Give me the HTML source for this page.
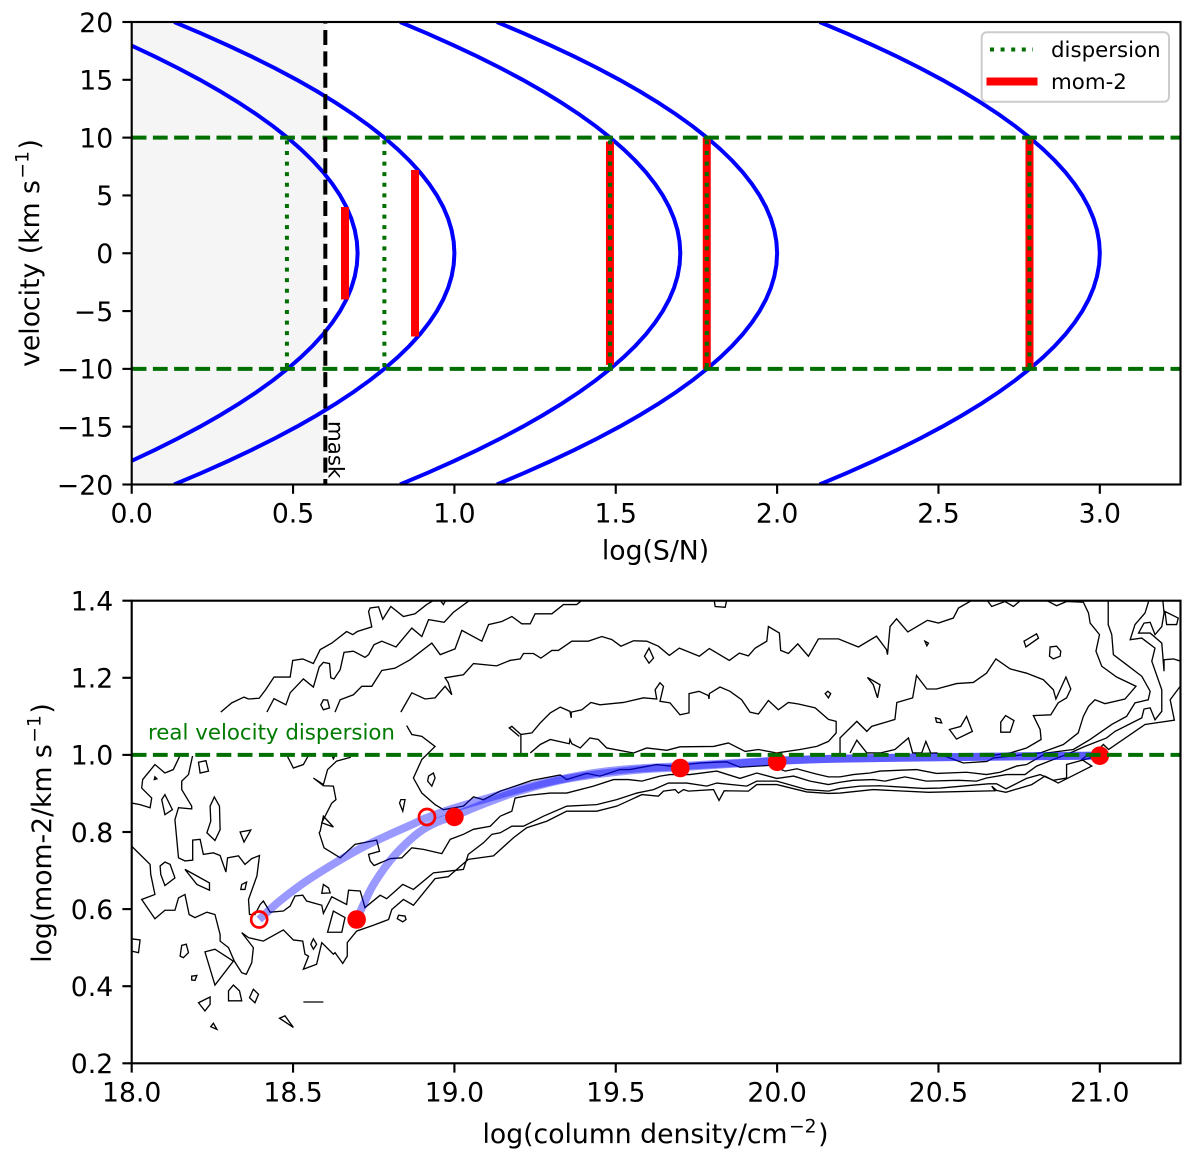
<!DOCTYPE html>
<html>
<head>
<meta charset="utf-8">
<title>Velocity profile and mom-2 chart</title>
<style>
html,body{margin:0;padding:0;background:#fff;width:1200px;height:1162px;overflow:hidden}
svg{display:block}
text{font-family:"DejaVu Sans","Liberation Sans",sans-serif;fill:#000}
</style>
</head>
<body>
<svg id="chart" xmlns="http://www.w3.org/2000/svg" width="1200" height="1162" viewBox="0 0 1200 1162">
<defs>
<clipPath id="clip-top"><rect x="131.7" y="22" width="1048.8" height="462.5"/></clipPath>
<clipPath id="clip-bottom"><rect x="131.7" y="600.7" width="1048.8" height="462.6"/></clipPath>
</defs>
</svg>
<script>
// ---------- top panel data ----------
const velocities = [-20,-19,-18,-17,-16,-15,-14,-13,-12,-11,-10,-9,-8,-7,-6,-5,-4,-3,-2,-1,0,1,2,3,4,5,6,7,8,9,10,11,12,13,14,15,16,17,18,19,20];
const profileDepth = [.8684,.7837,.7034,.6274,.5558,.4885,.4255,.3669,.3126,.2627,.2171,.1759,.1390,.1064,.0782,.0543,.0347,.0195,.0087,.0022,0,.0022,.0087,.0195,.0347,.0543,.0782,.1064,.1390,.1759,.2171,.2627,.3126,.3669,.4255,.4885,.5558,.6274,.7034,.7837,.8684];
const curvePeaks = [0.7,1.0,1.7,2.0,3.0];
const dispersionX = [0.481,0.783,1.482,1.782,2.782];
const dispersionHalf = [10,10,10,10,10];
const mom2X = [0.661,0.878,1.482,1.782,2.782];
const mom2Half = [4.0,7.2,9.65,10,10];
const maskX = [0.6];
const realDispersion = [-10,10];
const topXTicks = [0,0.5,1,1.5,2,2.5,3];
const topXLabels = ["0.0","0.5","1.0","1.5","2.0","2.5","3.0"];
const topYTicks = [-20,-15,-10,-5,0,5,10,15,20];
const topYLabels = ["\u221220","\u221215","\u221210","\u22125","0","5","10","15","20"];

// ---------- bottom panel data ----------
const botXTicks = [18,18.5,19,19.5,20,20.5,21];
const botXLabels = ["18.0","18.5","19.0","19.5","20.0","20.5","21.0"];
const botYTicks = [0.2,0.4,0.6,0.8,1.0,1.2,1.4];
const botYLabels = ["0.2","0.4","0.6","0.8","1.0","1.2","1.4"];
const realLogDispersion = [1.0];
const trackFilledX = [18.697,18.72,18.75,18.8,18.85,18.9,18.95,19.0,19.1,19.2,19.35,19.55,19.7,19.865,20,20.175,20.5,21];
const trackFilledY = [0.573,0.615,0.665,0.725,0.770,0.805,0.827,0.842,0.876,0.906,0.938,0.960,0.968,0.977,0.984,0.990,0.994,0.998];
const trackOpenX = [18.395,18.46,18.54,18.625,18.708,18.79,18.873,18.915,19.0,19.08,19.142,19.245,19.348,19.451,19.555,19.7,19.865,20,20.175,20.5,21];
const trackOpenY = [0.573,0.622,0.672,0.717,0.757,0.790,0.821,0.837,0.862,0.882,0.897,0.921,0.940,0.955,0.964,0.971,0.979,0.985,0.990,0.994,0.998];
const filledX = [18.697,19.0,19.7,20.0,21.0];
const filledY = [0.573,0.839,0.966,0.982,0.998];
const openX = [18.395,18.915];
const openY = [0.573,0.839];

const contourA = [[18.276,1.111],[18.310,1.135],[18.348,1.150],[18.362,1.145],[18.395,1.147],[18.415,1.169],[18.441,1.202],[18.491,1.202],[18.499,1.245],[18.530,1.249],[18.563,1.237],[18.584,1.273],[18.620,1.290],[18.666,1.320],[18.685,1.312],[18.699,1.320],[18.744,1.332],[18.734,1.372],[18.739,1.381],[18.765,1.384],[18.778,1.352],[18.803,1.385],[18.842,1.359],[18.878,1.366],[18.914,1.390],[18.940,1.403],[18.954,1.403],[18.966,1.390],[18.974,1.403]];
const contourB = [[18.419,1.111],[18.441,1.146],[18.478,1.130],[18.491,1.161],[18.532,1.197],[18.563,1.176],[18.581,1.228],[18.594,1.240],[18.613,1.237],[18.617,1.200],[18.627,1.197],[18.646,1.221],[18.658,1.266],[18.687,1.269],[18.723,1.253],[18.734,1.260],[18.751,1.286],[18.775,1.295],[18.819,1.280],[18.868,1.329],[18.899,1.307],[18.920,1.351],[18.968,1.344],[18.997,1.370],[19.049,1.402]];
const contourC = [[18.630,1.111],[18.646,1.143],[18.687,1.156],[18.713,1.178],[18.744,1.178],[18.775,1.219],[18.816,1.225],[18.863,1.247],[18.930,1.290],[18.956,1.260],[19.002,1.275],[19.023,1.323],[19.085,1.295],[19.106,1.338],[19.147,1.346],[19.178,1.359],[19.209,1.340],[19.235,1.340],[19.250,1.366],[19.302,1.366],[19.338,1.390],[19.379,1.390],[19.398,1.403]];
const contourD = [[18.834,1.111],[18.868,1.161],[18.909,1.145],[18.940,1.148],[18.971,1.178],[18.992,1.156],[18.981,1.187],[18.971,1.200],[19.028,1.208],[19.059,1.237],[19.131,1.231],[19.172,1.245],[19.204,1.249],[19.214,1.263],[19.245,1.263],[19.268,1.251],[19.302,1.271],[19.322,1.271],[19.364,1.295],[19.415,1.295],[19.457,1.307],[19.488,1.299],[19.516,1.282],[19.555,1.296],[19.596,1.295],[19.632,1.282],[19.666,1.258],[19.697,1.277],[19.759,1.256],[19.790,1.276],[19.852,1.245],[19.883,1.264],[19.911,1.257],[19.932,1.277],[19.968,1.295],[19.973,1.333],[20.007,1.316],[20.011,1.271],[20.035,1.263],[20.064,1.288],[20.097,1.256],[20.128,1.301],[20.190,1.301],[20.252,1.280],[20.308,1.308],[20.339,1.273],[20.342,1.260],[20.350,1.333],[20.370,1.353],[20.405,1.319],[20.466,1.349],[20.500,1.342],[20.546,1.355],[20.562,1.381],[20.608,1.403],[20.649,1.403],[20.665,1.385],[20.706,1.398],[20.732,1.385],[20.758,1.403],[20.830,1.403],[20.866,1.387],[20.897,1.398],[20.949,1.396],[20.965,1.368],[20.970,1.342],[20.999,1.312],[20.988,1.269],[21.006,1.230],[21.052,1.202],[21.112,1.178],[21.078,1.145],[21.016,1.133],[20.985,1.143],[20.965,1.126],[20.949,1.100],[20.933,1.057],[20.887,1.027],[20.815,1.005],[20.670,0.992],[20.650,0.983],[20.577,0.979],[20.494,1.005],[20.427,1.003]];
const contourE = [[19.206,1.005],[19.206,1.053],[19.240,1.057],[19.266,1.083],[19.297,1.109],[19.328,1.124],[19.358,1.113],[19.362,1.096],[19.362,1.111],[19.395,1.117],[19.423,1.136],[19.451,1.130],[19.524,1.136],[19.586,1.148],[19.627,1.145],[19.622,1.169],[19.637,1.187],[19.648,1.178],[19.637,1.139],[19.668,1.135],[19.699,1.104],[19.727,1.109],[19.727,1.159],[19.758,1.165],[19.787,1.154],[19.789,1.145],[19.790,1.159],[19.823,1.176],[19.854,1.165],[19.890,1.143],[19.916,1.111],[19.942,1.106],[19.973,1.141],[20.004,1.117],[20.035,1.136],[20.066,1.132],[20.118,1.122],[20.159,1.092],[20.183,1.087],[20.183,1.057],[20.159,1.035],[20.123,1.022],[20.071,1.014],[19.999,1.005],[19.942,1.014],[19.901,1.009],[19.849,1.031],[19.803,1.022],[19.699,1.021],[19.658,1.012],[19.596,1.018],[19.555,1.005],[19.472,1.018],[19.446,1.040],[19.420,1.044],[19.390,1.018],[19.364,1.029],[19.358,1.040],[19.356,1.029],[19.297,1.040],[19.266,1.027],[19.235,1.005]];
const contourEBranch = [[19.206,1.053],[19.178,1.074],[19.170,1.070],[19.201,1.048]];
const contourF = [[20.195,1.001],[20.195,1.044],[20.247,1.087],[20.278,1.061],[20.293,1.074],[20.365,1.092],[20.371,1.136],[20.420,1.148],[20.432,1.206],[20.464,1.171],[20.494,1.171],[20.556,1.185],[20.608,1.188],[20.649,1.212],[20.678,1.249],[20.722,1.223],[20.773,1.212],[20.825,1.195],[20.856,1.169],[20.864,1.145],[20.895,1.202],[20.910,1.171],[20.897,1.148],[20.871,1.135],[20.848,1.104],[20.794,1.102],[20.815,1.066],[20.818,1.040],[20.773,1.018],[20.722,1.005],[20.670,0.999]];
const contourG = [[20.226,1.005],[20.247,1.038],[20.278,1.005],[20.319,1.005],[20.365,1.014],[20.407,1.044],[20.420,1.005],[20.448,1.005],[20.461,1.035],[20.476,1.005]];
const contourK = [[18.852,1.076],[18.868,1.053],[18.899,1.048],[18.940,1.022],[18.899,0.988],[18.873,0.940],[18.899,0.901],[18.940,0.871],[18.966,0.858],[19.028,0.867],[19.059,0.891],[19.090,0.884],[19.142,0.906],[19.188,0.919],[19.240,0.934],[19.328,0.948],[19.348,0.936],[19.410,0.952],[19.451,0.945],[19.513,0.962],[19.544,0.962],[19.627,0.975],[19.668,0.971],[19.761,0.979],[19.813,0.981],[19.844,0.982],[19.885,0.968],[19.978,0.973],[20.025,0.958],[20.061,0.964],[20.118,0.951],[20.159,0.943],[20.195,0.943],[20.236,0.949],[20.288,0.953],[20.319,0.958],[20.432,0.962],[20.494,0.952],[20.587,0.955],[20.649,0.949],[20.691,0.955],[20.742,0.971],[20.773,0.975],[20.835,1.005],[20.918,1.014],[20.970,1.040],[21.037,1.079],[21.083,1.100],[21.109,1.135],[21.150,1.143],[21.156,1.165],[21.130,1.204],[21.083,1.234],[21.042,1.260],[21.037,1.312],[21.026,1.338],[21.026,1.403]];
const contourJ = [[21.153,1.403],[21.140,1.368],[21.109,1.338],[21.094,1.299],[21.130,1.303],[21.171,1.277],[21.161,1.243],[21.192,1.169],[21.192,1.113],[21.171,1.091],[21.156,1.122],[21.137,1.119],[21.130,1.096],[21.047,1.061],[21.021,1.044],[20.954,1.022],[20.908,1.005],[20.856,0.988],[20.804,0.971],[20.768,0.949],[20.711,0.949],[20.649,0.940],[20.618,0.932],[20.562,0.934],[20.463,0.932],[20.396,0.943],[20.334,0.932],[20.298,0.936],[20.236,0.934],[20.195,0.929],[20.159,0.923],[20.102,0.932],[20.051,0.945],[19.999,0.939],[19.937,0.953],[19.885,0.939],[19.813,0.958],[19.730,0.949],[19.668,0.949],[19.637,0.945],[19.581,0.932],[19.539,0.936],[19.493,0.936],[19.431,0.919],[19.348,0.901],[19.297,0.901],[19.229,0.895],[19.188,0.888],[19.178,0.854],[19.142,0.841]];
const contourN = [[18.679,0.994],[18.635,0.984],[18.607,0.962],[18.594,0.923],[18.563,0.940],[18.594,0.920],[18.625,0.919],[18.633,0.884],[18.620,0.875],[18.589,0.824],[18.625,0.813],[18.594,0.841],[18.584,0.802],[18.581,0.798],[18.596,0.759],[18.646,0.733],[18.692,0.768],[18.759,0.779],[18.768,0.750],[18.734,0.742],[18.739,0.725],[18.751,0.713],[18.801,0.731],[18.837,0.733],[18.868,0.759],[18.904,0.755],[18.961,0.744],[18.987,0.781],[19.028,0.794],[19.059,0.807],[19.111,0.815],[19.142,0.841]];
const contourL = [[18.189,0.999],[18.176,0.949],[18.155,0.932],[18.155,0.910],[18.186,0.867],[18.186,0.860],[18.145,0.863],[18.134,0.832],[18.145,0.733],[18.165,0.725],[18.189,0.727],[18.189,0.779],[18.212,0.781],[18.222,0.742],[18.253,0.746],[18.274,0.739],[18.292,0.696],[18.297,0.733],[18.331,0.738],[18.351,0.716],[18.372,0.731],[18.396,0.739],[18.388,0.686],[18.362,0.625],[18.365,0.586],[18.382,0.586],[18.398,0.612],[18.408,0.621],[18.429,0.592],[18.470,0.595],[18.491,0.608],[18.506,0.634],[18.530,0.636],[18.542,0.621],[18.589,0.610],[18.594,0.589],[18.620,0.632],[18.666,0.612],[18.672,0.649],[18.708,0.647],[18.723,0.604],[18.770,0.636],[18.790,0.627],[18.840,0.664],[18.873,0.651],[18.935,0.694],[18.987,0.699],[19.028,0.703],[19.043,0.742],[19.090,0.772],[19.116,0.794],[19.142,0.798],[19.178,0.815],[19.214,0.815],[19.276,0.841],[19.348,0.867],[19.441,0.871],[19.503,0.884],[19.565,0.901],[19.617,0.910],[19.663,0.927],[19.720,0.927],[19.782,0.919],[19.813,0.927],[19.906,0.919],[19.937,0.932],[19.999,0.932],[20.092,0.910],[20.159,0.906],[20.195,0.913],[20.257,0.919],[20.319,0.920],[20.453,0.913],[20.505,0.914],[20.655,0.925],[20.680,0.925],[20.709,0.912],[20.773,0.939],[20.815,0.949],[20.856,0.934],[20.897,0.940],[20.897,0.975],[20.970,0.992],[21.011,1.027],[21.027,1.014],[21.140,1.079],[21.231,1.090],[21.218,1.143],[21.251,1.180]];
const contourM = [[18.000,0.763],[18.057,0.716],[18.059,0.690],[18.072,0.638],[18.031,0.625],[18.072,0.575],[18.103,0.597],[18.134,0.597],[18.145,0.629],[18.165,0.638],[18.178,0.586],[18.196,0.578],[18.233,0.592],[18.258,0.586],[18.274,0.534],[18.274,0.517],[18.300,0.500],[18.318,0.465],[18.341,0.435],[18.355,0.431],[18.372,0.461],[18.377,0.500],[18.341,0.539],[18.362,0.526],[18.408,0.517],[18.470,0.546],[18.501,0.520],[18.530,0.517],[18.537,0.483],[18.548,0.478],[18.532,0.444],[18.573,0.457],[18.589,0.513],[18.625,0.483],[18.630,0.487],[18.654,0.459],[18.668,0.478],[18.668,0.513],[18.697,0.543],[18.749,0.558],[18.796,0.573],[18.806,0.599],[18.842,0.625],[18.873,0.610],[18.940,0.679],[18.981,0.684],[19.043,0.729],[19.121,0.738],[19.183,0.785],[19.224,0.811],[19.286,0.828],[19.348,0.854],[19.441,0.854],[19.503,0.867],[19.581,0.897],[19.632,0.893],[19.648,0.906],[19.684,0.910],[19.694,0.901],[19.710,0.910],[19.725,0.906],[19.803,0.910],[19.820,0.882],[19.836,0.907],[19.911,0.906],[19.937,0.923],[19.999,0.923],[20.092,0.904],[20.159,0.900],[20.195,0.901],[20.298,0.910],[20.469,0.903],[20.675,0.907],[20.665,0.919],[20.680,0.908],[20.709,0.903],[20.789,0.923],[20.830,0.945],[20.871,0.927],[20.975,0.971],[20.944,0.988],[20.970,1.005]];
const contourP1 = [[18.150,0.999],[18.129,0.962],[18.103,0.953],[18.072,0.975],[18.034,0.936],[18.031,0.914],[18.062,0.888],[18.057,0.863],[18.026,0.871],[18.000,0.875]];
const contourP2 = [[18.481,0.999],[18.501,0.966],[18.532,0.975],[18.548,0.999]];
const contourP3 = [[18.620,0.999],[18.625,0.990],[18.630,0.999]];
const contourR = [[21.195,1.403],[21.199,1.368],[21.192,1.333],[21.171,1.312],[21.156,1.344],[21.137,1.342],[21.120,1.316],[21.156,1.316],[21.192,1.290],[21.199,1.217],[21.199,1.247],[21.228,1.249],[21.251,1.243]];
const contourDash = [[18.532,0.359],[18.594,0.359]];
const contourTopLoop = [[19.805,1.402],[19.808,1.385],[19.839,1.383],[19.844,1.402]];
const contourLines = [contourA,contourB,contourC,contourD,contourE,contourEBranch,contourF,contourG,contourK,contourJ,contourN,contourL,contourM,contourP1,contourP2,contourP3,contourR,contourDash,contourTopLoop];
const contourIslands = [
[[18.207,0.981],[18.230,0.985],[18.238,0.958],[18.212,0.953]],
[[18.072,0.943],[18.078,0.938],[18.070,0.936]],
[[18.103,0.897],[18.126,0.858],[18.103,0.845],[18.093,0.884]],
[[18.256,0.891],[18.272,0.867],[18.274,0.806],[18.258,0.778],[18.233,0.798],[18.245,0.828],[18.243,0.867]],
[[18.336,0.800],[18.369,0.805],[18.348,0.774]],
[[18.594,1.143],[18.607,1.142],[18.613,1.122],[18.594,1.117],[18.586,1.130]],
[[18.920,0.945],[18.935,0.953],[18.940,0.940],[18.930,0.919],[18.917,0.932]],
[[18.834,0.884],[18.847,0.884],[18.840,0.854],[18.830,0.875]],
[[18.088,0.712],[18.103,0.722],[18.119,0.716],[18.134,0.681],[18.103,0.661],[18.090,0.690]],
[[18.165,0.703],[18.241,0.668],[18.241,0.649],[18.202,0.664]],
[[18.341,0.664],[18.356,0.670],[18.351,0.651],[18.338,0.651]],
[[18.594,0.664],[18.610,0.655],[18.615,0.642],[18.589,0.641]],
[[18.625,0.595],[18.661,0.578],[18.651,0.540],[18.607,0.540]],
[[18.827,0.584],[18.847,0.582],[18.850,0.573],[18.840,0.567],[18.823,0.575]],
[[18.563,0.523],[18.573,0.509],[18.563,0.496],[18.555,0.509]],
[[18.155,0.506],[18.169,0.509],[18.176,0.487],[18.160,0.474],[18.150,0.478]],
[[18.000,0.523],[18.026,0.520],[18.021,0.487],[18.000,0.491]],
[[18.186,0.426],[18.202,0.428],[18.196,0.415],[18.186,0.416]],
[[18.315,0.403],[18.334,0.388],[18.341,0.362],[18.300,0.362],[18.300,0.388]],
[[18.377,0.392],[18.393,0.379],[18.382,0.357],[18.365,0.370]],
[[18.207,0.357],[18.243,0.372],[18.243,0.353],[18.227,0.336]],
[[18.253,0.304],[18.264,0.288],[18.245,0.295]],
[[18.458,0.317],[18.475,0.323],[18.501,0.293]],
[[18.227,0.489],[18.258,0.496],[18.315,0.465],[18.258,0.403]],
[[19.603,1.277],[19.617,1.251],[19.603,1.238],[19.589,1.256]],
[[20.157,1.165],[20.166,1.159],[20.159,1.148],[20.149,1.159]],
[[20.458,1.295],[20.469,1.290],[20.464,1.283]],
[[20.765,1.295],[20.804,1.314],[20.810,1.303],[20.771,1.280]],
[[20.846,1.280],[20.866,1.282],[20.879,1.269],[20.877,1.256],[20.856,1.249],[20.844,1.256]],
[[20.280,1.201],[20.319,1.182],[20.311,1.148],[20.298,1.182]],
[[20.491,1.096],[20.505,1.093],[20.510,1.083],[20.494,1.085]],
[[20.534,1.066],[20.569,1.074],[20.587,1.100],[20.605,1.061],[20.556,1.041]],
[[20.708,1.102],[20.734,1.089],[20.722,1.059],[20.693,1.059],[20.693,1.085]],
[[21.202,1.372],[21.243,1.355],[21.238,1.338],[21.207,1.338]]
];

// ---------- axis functions ----------
const L = 131.7, R = 1180.5, TT = 22, TB = 484.5, BT = 600.7, BB = 1063.3;
const xTop = v => L + (v - 0) / 3.25 * (R - L);
const yTop = v => TB - (v + 20) / 40 * (TB - TT);
const xBot = v => L + (v - 18) / 3.25 * (R - L);
const yBot = v => BB - (v - 0.2) / 1.2 * (BB - BT);

const NS = 'http://www.w3.org/2000/svg';
const svg = document.getElementById('chart');
function make(tag, attrs, parent) {
  const el = document.createElementNS(NS, tag);
  for (const k in attrs) el.setAttribute(k, attrs[k]);
  parent.appendChild(el);
  return el;
}
function group(parent, clip) {
  return make('g', clip ? {'clip-path': 'url(#' + clip + ')'} : {}, parent);
}
function smoothPath(pts) {
  let d = 'M' + pts[0][0].toFixed(2) + ' ' + pts[0][1].toFixed(2);
  for (let i = 0; i < pts.length - 1; i++) {
    const p0 = pts[Math.max(i - 1, 0)], p1 = pts[i], p2 = pts[i + 1], p3 = pts[Math.min(i + 2, pts.length - 1)];
    const c1x = p1[0] + (p2[0] - p0[0]) / 6, c1y = p1[1] + (p2[1] - p0[1]) / 6;
    const c2x = p2[0] - (p3[0] - p1[0]) / 6, c2y = p2[1] - (p3[1] - p1[1]) / 6;
    d += 'C' + c1x.toFixed(2) + ' ' + c1y.toFixed(2) + ' ' + c2x.toFixed(2) + ' ' + c2y.toFixed(2) + ' ' + p2[0].toFixed(2) + ' ' + p2[1].toFixed(2);
  }
  return d;
}
const GREEN = '#006f00';
const DASH = '14.8 6.4';
const DOT = '4 6.6';

// ---------- top panel ----------
const topPanel = group(svg);


const topPlot = group(topPanel, 'clip-top');



const maskRegion = make('rect', {x: xTop(0), y: TT, width: xTop(maskX[0]) - xTop(0), height: TB - TT, fill: '#f5f5f5'}, topPlot);



curvePeaks.forEach((peak) => {
  const pts = velocities.map((v, i) => xTop(peak - profileDepth[i]).toFixed(2) + ',' + yTop(v).toFixed(2)).join(' ');
  const c = make('polyline', {points: pts, fill: 'none', stroke: '#0000ff', 'stroke-width': 4}, topPlot);
  
  
});
mom2X.forEach((x, i) => {
  const b = make('line', {x1: xTop(x), x2: xTop(x), y1: yTop(-mom2Half[i]), y2: yTop(mom2Half[i]), stroke: '#ff0000', 'stroke-width': 8}, topPlot);
  
  
});
dispersionX.forEach((x, i) => {
  const d = make('line', {x1: xTop(x), x2: xTop(x), y1: yTop(-dispersionHalf[i]), y2: yTop(dispersionHalf[i]), stroke: GREEN, 'stroke-width': 4, 'stroke-dasharray': DOT, 'stroke-dashoffset': 8.7}, topPlot);
  
  
});
realDispersion.forEach((v) => {
  const g = make('line', {x1: L, x2: R, y1: yTop(v), y2: yTop(v), stroke: GREEN, 'stroke-width': 4, 'stroke-dasharray': DASH}, topPlot);
  
  
});
const maskLine = make('line', {x1: xTop(maskX[0]), x2: xTop(maskX[0]), y1: TT, y2: TB, stroke: '#000', 'stroke-width': 4, 'stroke-dasharray': '15 6.38', 'stroke-dashoffset': 13.38}, topPlot);



const maskLabel = make('text', {transform: 'translate(328.5,421) rotate(90)', 'font-size': 21.33}, topPanel);
maskLabel.textContent = 'mask';



// legend
const legend = group(topPanel);


const legendBox = make('rect', {x: 981.7, y: 32.3, width: 187.3, height: 69.4, rx: 5, fill: '#fff', 'fill-opacity': 0.8, stroke: '#ccc', 'stroke-width': 2}, legend);


const legendDot = make('line', {x1: 990, x2: 1033, y1: 49.5, y2: 49.5, stroke: GREEN, 'stroke-width': 4, 'stroke-dasharray': DOT}, legend);


const legendDispText = make('text', {x: 1051, y: 57, 'font-size': 21.33}, legend);
legendDispText.textContent = 'dispersion';


const legendRed = make('line', {x1: 986.5, x2: 1037.5, y1: 81.5, y2: 81.5, stroke: '#ff0000', 'stroke-width': 8}, legend);


const legendMomText = make('text', {x: 1051, y: 89, 'font-size': 21.33}, legend);
legendMomText.textContent = 'mom-2';



// ---------- bottom panel ----------
const botPanel = group(svg);


const botPlot = group(botPanel, 'clip-bottom');



contourLines.forEach((line) => {
  const pts = line.map(p => xBot(p[0]).toFixed(2) + ',' + yBot(p[1]).toFixed(2)).join(' ');
  const c = make('polyline', {points: pts, fill: 'none', stroke: '#000', 'stroke-width': 1.33}, botPlot);
  
  
});
contourIslands.forEach((line) => {
  const pts = line.map(p => xBot(p[0]).toFixed(2) + ',' + yBot(p[1]).toFixed(2)).join(' ');
  const c = make('polygon', {points: pts, fill: 'none', stroke: '#000', 'stroke-width': 1.33}, botPlot);
  
  
});

const labelBox = make('rect', {x: 142, y: 713, width: 264, height: 43, fill: '#fff'}, botPlot);



[[trackOpenX, trackOpenY], [trackFilledX, trackFilledY]].forEach((t) => {
  const pts = t[0].map((x, i) => [xBot(x), yBot(t[1][i])]);
  const c = make('path', {d: smoothPath(pts), fill: 'none', stroke: '#0000ff', 'stroke-opacity': 0.4, 'stroke-width': 8}, botPlot);
  
  
});
openX.forEach((x, i) => {
  const m = make('circle', {cx: xBot(x), cy: yBot(openY[i]), r: 8, fill: 'none', stroke: '#ff0000', 'stroke-width': 2.7}, botPlot);
  
  
});
filledX.forEach((x, i) => {
  const m = make('circle', {cx: xBot(x), cy: yBot(filledY[i]), r: 9.3, fill: '#ff0000'}, botPlot);
  
  
});
realLogDispersion.forEach((v) => {
  const g = make('line', {x1: L, x2: R, y1: yBot(v), y2: yBot(v), stroke: GREEN, 'stroke-width': 4, 'stroke-dasharray': DASH}, botPlot);
  
  
});
const realLabel = make('text', {x: 148, y: 739.5, 'font-size': 21.33, style: 'fill:#007a00'}, botPanel);
realLabel.textContent = 'real velocity dispersion';



// ---------- axes ----------
function drawAxes(parent, top, bottom, xTicks, xLabels, xFn, yTicks, yLabels, yFn, labelY) {
  const frame = make('rect', {x: L, y: top, width: R - L, height: bottom - top, fill: 'none', stroke: '#000', 'stroke-width': 2.13}, parent);
  
  
  xTicks.forEach((v, i) => {
    const t = make('line', {x1: xFn(v), x2: xFn(v), y1: bottom, y2: bottom + 9.3, stroke: '#000', 'stroke-width': 2.13}, parent);
    
    
    const s = make('text', {x: xFn(v), y: labelY, 'font-size': 26.67, 'text-anchor': 'middle'}, parent);
    s.textContent = xLabels[i];
    
    
  });
  yTicks.forEach((v, i) => {
    const t = make('line', {x1: L - 9.3, x2: L, y1: yFn(v), y2: yFn(v), stroke: '#000', 'stroke-width': 2.13}, parent);
    
    
    const s = make('text', {x: 113.2, y: yFn(v) + 9.8, 'font-size': 26.67, 'text-anchor': 'end'}, parent);
    s.textContent = yLabels[i];
    
    
  });
}
drawAxes(topPanel, TT, TB, topXTicks, topXLabels, xTop, topYTicks, topYLabels, yTop, 522.5);
drawAxes(botPanel, BT, BB, botXTicks, botXLabels, xBot, botYTicks, botYLabels, yBot, 1101.5);

const topXTitle = make('text', {x: 655.5, y: 559.5, 'font-size': 26.67, 'text-anchor': 'middle'}, topPanel);
topXTitle.textContent = 'log(S/N)';



const topYTitle = make('text', {transform: 'translate(39,253) rotate(-90)', 'font-size': 26.67, 'text-anchor': 'middle'}, topPanel);
topYTitle.innerHTML = 'velocity (km s<tspan dx="1.5" dy="-10.5" font-size="18.7">\u22121</tspan><tspan dx="1.5" dy="10.5">)</tspan>';



const botXTitle = make('text', {x: 655.5, y: 1143, 'font-size': 26.67, 'text-anchor': 'middle'}, botPanel);
botXTitle.innerHTML = 'log(column density/cm<tspan dx="1.5" dy="-10.5" font-size="18.7">\u22122</tspan><tspan dx="1.5" dy="10.5">)</tspan>';



const botYTitle = make('text', {transform: 'translate(51,833) rotate(-90)', 'font-size': 26.67, 'text-anchor': 'middle'}, botPanel);
botYTitle.innerHTML = 'log(mom-2/km s<tspan dx="1.5" dy="-10.5" font-size="18.7">\u22121</tspan><tspan dx="1.5" dy="10.5">)</tspan>';


</script>
</body>
</html>
